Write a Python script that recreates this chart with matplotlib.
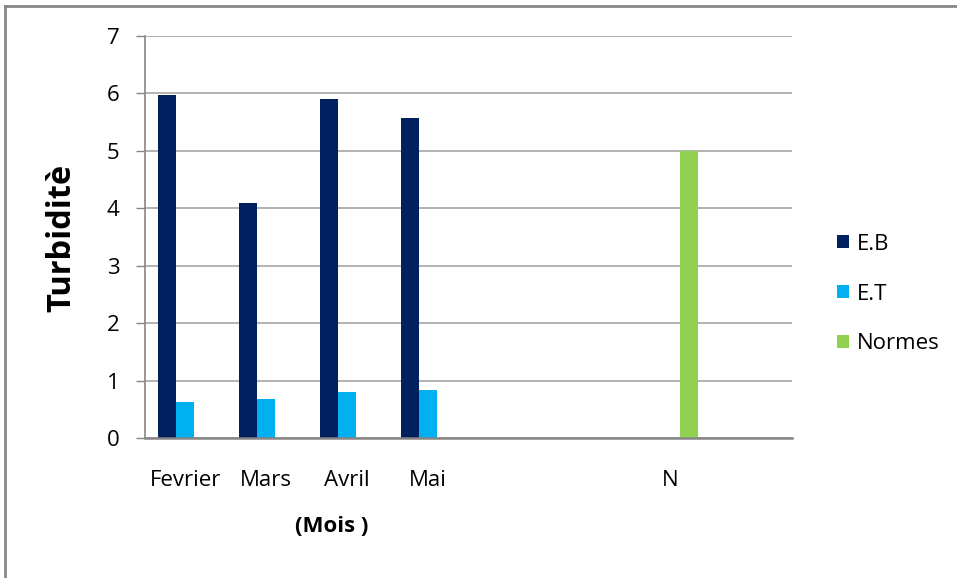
import numpy as np
import matplotlib
matplotlib.use("Agg")
import matplotlib.pyplot as plt
from matplotlib.lines import Line2D

plt.rcParams['font.family'] = ['Open Sans', 'DejaVu Sans']

categories = ["Fevrier", "Mars", "Avril", "Mai", "", "", "N", ""]
eb_values = [5.98, 4.10, 5.91, 5.57, 0, 0, 0, 0]
et_values = [0.62, 0.68, 0.80, 0.84, 0, 0, 0, 0]
norm_values = [0, 0, 0, 0, 0, 0, 5.0, 0]
series_names = ["E.B", "E.T", "Normes"]
colors = ["#002060", "#00B0F0", "#92D050"]

fig = plt.figure(figsize=(9.57, 5.78), dpi=100)
ax = fig.add_axes([145 / 957, 1 - 438 / 578, (792 - 145) / 957, (438 - 36) / 578])

x = np.arange(len(categories))
w = 1 / 4.5  # bar width with 150% gap between groups
for i, (vals, name, c) in enumerate(zip([eb_values, et_values, norm_values], series_names, colors)):
    ax.bar(x + (i - 1) * w, vals, width=w, color=c, label=name, zorder=3)

ax.set_xlim(-0.5, len(categories) - 0.5)
ax.set_ylim(0, 7)
ax.set_yticks(range(0, 8))
ax.set_xticks(x)
ax.set_xticklabels(categories, fontsize=16)
ax.tick_params(axis='x', length=0, pad=23)
ax.tick_params(axis='y', length=6.5, width=1, color='#868686', labelsize=16, pad=12)

ax.grid(axis='y', color='#A6A6A6', linewidth=1.2, zorder=0)
for s in ['top', 'right']:
    ax.spines[s].set_visible(False)
ax.spines['left'].set_color('#868686')
ax.spines['bottom'].set_color('#868686')
ax.spines['left'].set_linewidth(1.2)
ax.spines['bottom'].set_linewidth(1.8)
ax.spines['bottom'].set_zorder(4)

fig.text(62 / 957, 1 - 238 / 578, "Turbiditè", fontsize=23.5, fontweight='bold',
         rotation=90, ha='center', va='center')
fig.text(332 / 957, 1 - 526 / 578, "(Mois )", fontsize=16, fontweight='bold', ha='center', va='center')

leg = fig.legend(loc='center left', bbox_to_anchor=(817 / 957, 1 - 294 / 578), frameon=False,
                 fontsize=16, handlelength=0.55, handleheight=0.55, handletextpad=0.35, labelspacing=1.3)

# chart frame edges
fig.add_artist(Line2D([5 / 957, 1.0], [1 - 6 / 578, 1 - 6 / 578], color='#868686', linewidth=2, transform=fig.transFigure))
fig.add_artist(Line2D([5 / 957, 5 / 957], [0, 1 - 6 / 578], color='#868686', linewidth=2, transform=fig.transFigure))

fig.savefig("out.png", dpi=100)
